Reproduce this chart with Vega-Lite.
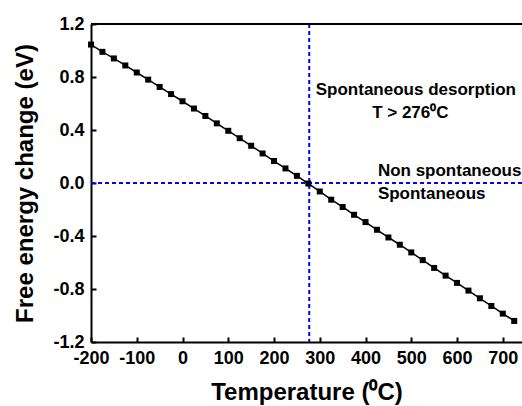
{
  "$schema": "https://vega.github.io/schema/vega-lite/v6.json",
  "width": 431,
  "height": 318,
  "autosize": {"type": "none"},
  "padding": {"left": 91, "top": 24, "right": 0, "bottom": 64},
  "background": "white",
  "config": {
    "view": {"stroke": null},
    "axis": {
      "labelFont": "Liberation Sans",
      "labelFontWeight": "bold",
      "labelFontSize": 18,
      "labelColor": "black",
      "titleFont": "Liberation Sans",
      "titleFontWeight": "bold",
      "titleFontSize": 24,
      "titleColor": "black",
      "domainColor": "black",
      "domainWidth": 2,
      "tickColor": "black",
      "tickWidth": 2,
      "grid": false
    }
  },
  "datasets": {
    "curve": [
      {"T": -200, "G": 1.045}, {"T": -175, "G": 0.990}, {"T": -150, "G": 0.940}, {"T": -125, "G": 0.887},
      {"T": -100, "G": 0.834}, {"T": -75, "G": 0.780}, {"T": -50, "G": 0.725}, {"T": -25, "G": 0.671},
      {"T": 0, "G": 0.617}, {"T": 25, "G": 0.562}, {"T": 50, "G": 0.506}, {"T": 75, "G": 0.450},
      {"T": 100, "G": 0.394}, {"T": 125, "G": 0.338}, {"T": 150, "G": 0.281}, {"T": 175, "G": 0.223},
      {"T": 200, "G": 0.166}, {"T": 225, "G": 0.110}, {"T": 250, "G": 0.054}, {"T": 275, "G": -0.004},
      {"T": 300, "G": -0.064}, {"T": 325, "G": -0.126}, {"T": 350, "G": -0.181}, {"T": 375, "G": -0.240},
      {"T": 400, "G": -0.295}, {"T": 425, "G": -0.353}, {"T": 450, "G": -0.411}, {"T": 475, "G": -0.466},
      {"T": 500, "G": -0.524}, {"T": 525, "G": -0.582}, {"T": 550, "G": -0.641}, {"T": 575, "G": -0.699},
      {"T": 600, "G": -0.754}, {"T": 625, "G": -0.812}, {"T": 650, "G": -0.870}, {"T": 675, "G": -0.928},
      {"T": 700, "G": -0.986}, {"T": 725, "G": -1.041}
    ],
    "centered": [
      {"T": 510, "G": 0.70, "label": "Spontaneous desorption"},
      {"T": 498, "G": 0.53, "label": "T > 276⁰C"}
    ],
    "left": [
      {"T": 427, "G": 0.088, "label": "Non spontaneous"},
      {"T": 427, "G": -0.081, "label": "Spontaneous"}
    ],
    "refs": [
      {"Tref": 277, "Gref": 0, "Gtop": 1.2}
    ]
  },
  "layer": [
    {
      "data": {"name": "refs"},
      "mark": {"type": "rule", "color": "#0000ff", "strokeWidth": 2, "strokeDash": [4, 3]},
      "encoding": {
        "y": {"field": "Gref", "type": "quantitative", "scale": {"domain": [-1.2, 1.2], "nice": false, "zero": false},
              "axis": {"values": [-1.2, -0.8, -0.4, 0, 0.4, 0.8, 1.2], "format": ".1f",
                       "labelExpr": "replace(datum.label, '−', '-')",
                       "title": "Free energy change (eV)", "tickSize": -5, "labelPadding": 12, "titlePadding": 15, "labelFlush": false}}
      }
    },
    {
      "data": {"name": "refs"},
      "mark": {"type": "rule", "color": "#0000ff", "strokeWidth": 2, "strokeDash": [4, 3]},
      "encoding": {
        "x": {"field": "Tref", "type": "quantitative", "scale": {"domain": [-200, 742], "nice": false, "zero": false},
              "axis": {"orient": "bottom", "values": [-200, -100, 0, 100, 200, 300, 400, 500, 600, 700],
                       "labelExpr": "replace(datum.label, '−', '-')",
                       "title": "Temperature (⁰C)", "tickSize": -5, "labelPadding": 12, "titlePadding": 13, "labelFlush": false}}
      }
    },
    {
      "data": {"name": "refs"},
      "mark": {"type": "rule", "color": "black", "strokeWidth": 2},
      "encoding": {
        "y": {"field": "Gtop", "type": "quantitative"}
      }
    },
    {
      "data": {"name": "curve"},
      "mark": {"type": "line", "color": "black", "strokeWidth": 1.5},
      "encoding": {
        "x": {"field": "T", "type": "quantitative"},
        "y": {"field": "G", "type": "quantitative"}
      }
    },
    {
      "data": {"name": "curve"},
      "mark": {"type": "square", "filled": true, "color": "black", "size": 36, "opacity": 1},
      "encoding": {
        "x": {"field": "T", "type": "quantitative"},
        "y": {"field": "G", "type": "quantitative"}
      }
    },
    {
      "data": {"name": "centered"},
      "mark": {"type": "text", "font": "Liberation Sans", "fontWeight": "bold", "fontSize": 17, "align": "center", "baseline": "middle", "color": "black"},
      "encoding": {
        "x": {"field": "T", "type": "quantitative"},
        "y": {"field": "G", "type": "quantitative"},
        "text": {"field": "label"}
      }
    },
    {
      "data": {"name": "left"},
      "mark": {"type": "text", "font": "Liberation Sans", "fontWeight": "bold", "fontSize": 17, "align": "left", "baseline": "middle", "color": "black"},
      "encoding": {
        "x": {"field": "T", "type": "quantitative"},
        "y": {"field": "G", "type": "quantitative"},
        "text": {"field": "label"}
      }
    }
  ]
}
